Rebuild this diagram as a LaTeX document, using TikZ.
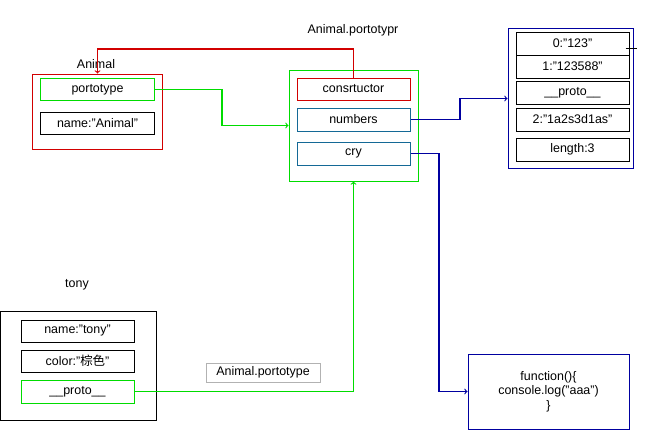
\documentclass[tikz,border=0pt]{standalone}
\usepackage{fontspec}
\setmainfont{Liberation Sans}
\newfontfamily\cjk{Noto Sans CJK SC}
\usepackage{tikz}
\usetikzlibrary{arrows}
\definecolor{objred}{RGB}{210,0,0}
\definecolor{objgreen}{RGB}{0,220,0}
\definecolor{objteal}{RGB}{20,105,150}
\definecolor{objnavy}{RGB}{0,0,160}

\begin{document}
\begin{tikzpicture}[font=\fontsize{12.5}{14.5}\selectfont,
  obj/.style={draw,line width=1bp,inner sep=0pt,minimum width=113bp,minimum height=22bp},
  link/.style={->,line width=1.1bp}]
\useasboundingbox (0bp,0bp) rectangle (649bp,-443bp);

% Animal
\node (animal) at (97.5bp,-111.5bp)[draw=objred,line width=1bp,minimum width=130bp,minimum height=75bp] {};
\node (animallbl) at (96bp,-64bp) {Animal};
\node (ptype) at (97.5bp,-89.5bp)[obj,draw=objgreen,minimum width=114bp] {portotype};
\node (aname) at (97.5bp,-123bp)[obj,minimum width=114bp] {name:"Animal"};

% Animal.prototype
\node (protobj) at (353.5bp,-125.5bp)[draw=objgreen,line width=1bp,minimum width=129bp,minimum height=111bp] {};
\node (protolbl) at (353bp,-30bp) {Animal.portotypr};
\node (ctor) at (353.5bp,-89bp)[obj,draw=objred] {consrtuctor};
\node (numbers) at (353.5bp,-119.5bp)[obj,draw=objteal,minimum height=23bp] {numbers};
\node (cry) at (353.5bp,-153.5bp)[obj,draw=objteal,minimum height=23bp] {cry};

% array
\node (array) at (570.5bp,-98.5bp)[draw=objnavy,line width=1bp,minimum width=125bp,minimum height=140bp] {};
\node (row0) at (572.5bp,-43.5bp)[obj,minimum height=23bp] {0:"123"};
\node (row1) at (572.5bp,-66.5bp)[obj,minimum height=23bp] {1:"123588"};
\node (aproto) at (572.5bp,-92.5bp)[obj,minimum height=23bp] {\_\_proto\_\_};
\node (row2) at (572.5bp,-119.5bp)[obj,minimum height=23bp] {2:"1a2s3d1as"};
\node (alen) at (572.5bp,-149.5bp)[obj,minimum height=23bp] {length:3};
\draw [line width=0.7bp] (row0.east) ++(-4bp,-4.5bp) -- ++(11bp,0bp);

% function
\node (func) at (548.5bp,-391.5bp)[draw=objnavy,line width=1bp,minimum width=161bp,minimum height=75bp,align=center] {function()\{\\console.log("aaa")\\\}};

% tony
\node (tony) at (78.5bp,-365.5bp)[draw,line width=1bp,minimum width=156bp,minimum height=109bp] {};
\node (tonylbl) at (77bp,-285bp) {tony};
\node (tname) at (77.5bp,-331bp)[obj] {name:"tony"};
\node (tcolor) at (77.5bp,-361bp)[obj] {color:"{\cjk 棕色}"};
\node (tproto) at (77.5bp,-391.5bp)[obj,draw=objgreen,minimum height=23bp] {\_\_proto\_\_};
\node (plabel) at (263bp,-372.5bp)[draw=gray!60,line width=0.8bp,minimum width=114bp,minimum height=19bp,inner sep=0pt] {Animal.portotype};

% links
\draw [link,objred] (ctor.north) -- ++(0bp,28.5bp) -| (animal.north);
\draw [link,objgreen] (ptype.east) -- ++(67bp,0bp) |- (protobj.west);
\draw [link,objgreen] (tproto.east) -| (protobj.south);
\draw [link,objnavy] (numbers.east) -- ++(49.5bp,0bp) |- (array.west);
\draw [link,objnavy] (cry.east) -- ++(28.5bp,0bp) |- (func.west);

\end{tikzpicture}
\end{document}
